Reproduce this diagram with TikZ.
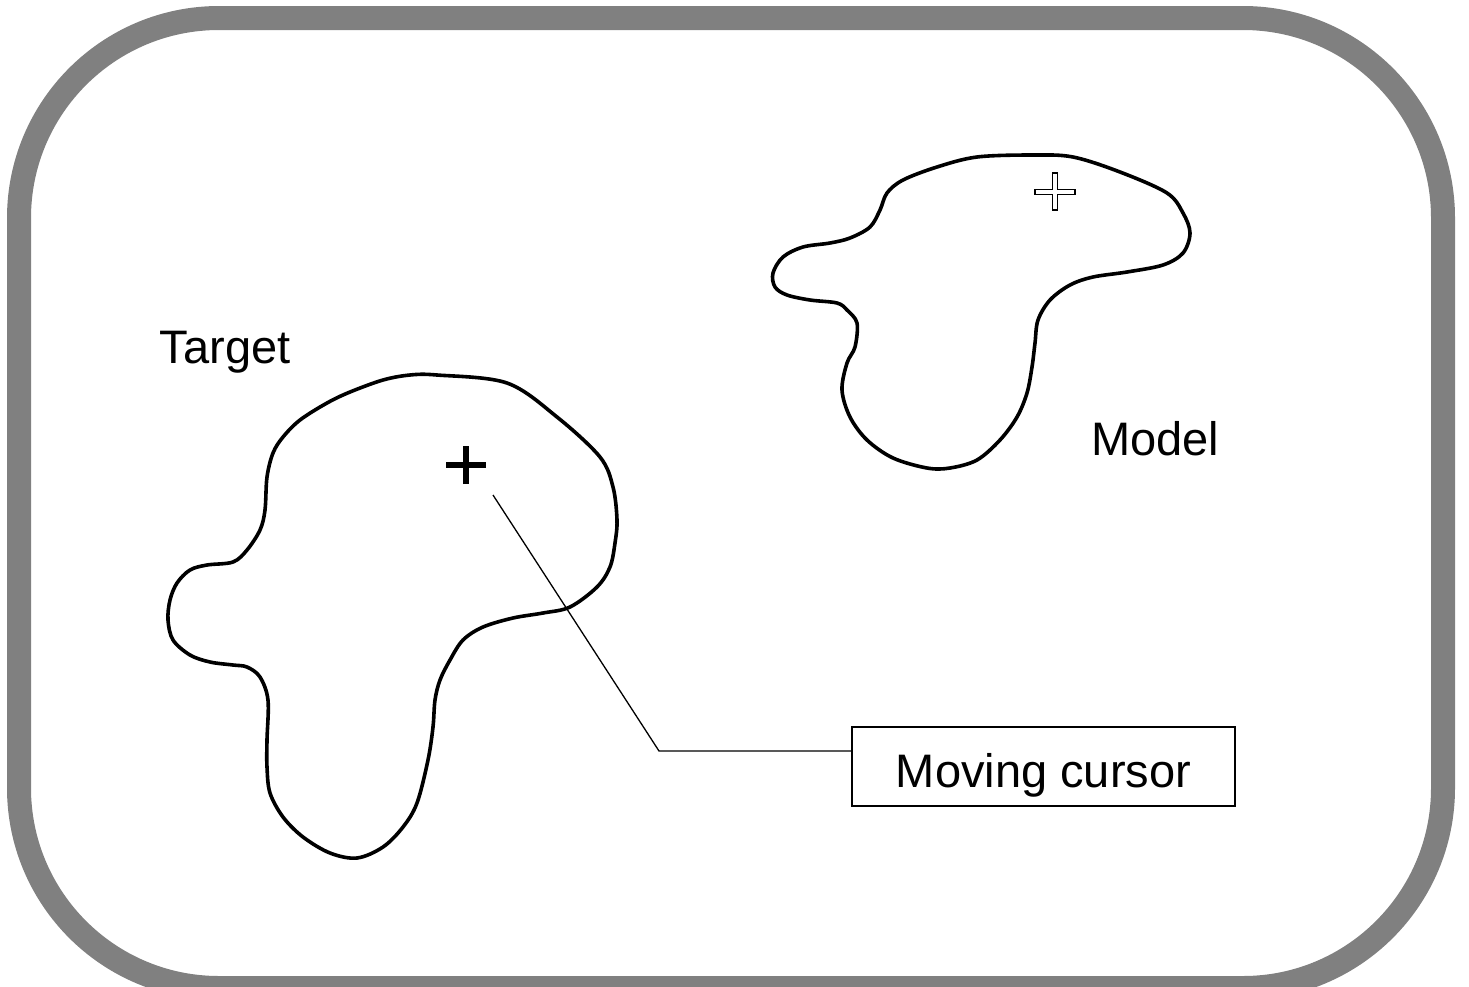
\documentclass[tikz,border=0pt]{standalone}
\usepackage{fontspec}
\setmainfont{Liberation Sans}
\usetikzlibrary{calc}
\definecolor{framegray}{RGB}{128,128,128}
\tikzset{
  frame/.style={draw=framegray, line width=24pt, rounded corners=200pt},
  blob/.style={draw=black, line width=3.6pt, line join=round},
  label/.style={font=\fontsize{47}{52}\selectfont, inner sep=0pt},
  leader/.style={draw=black, line width=1.3pt},
  callout/.style={draw=black, line width=1.3pt, minimum width=383pt, minimum height=79pt,
                  font=\fontsize{47}{52}\selectfont, inner sep=0pt,
                  text height=41pt, text depth=0pt},
  solidcross/.style={draw=black, line width=5.5pt},
  hollowcross/.style={draw=black, fill=white, line width=1.1pt, line join=miter}
}
\begin{document}
\begin{tikzpicture}[x=1pt, y=-1pt]
  \useasboundingbox (0,0) rectangle (1469,986);

  % rounded grey frame
  \draw[frame] (19,18) rectangle (1443,988);

  % target outline
  \draw[blob] plot[smooth cycle, tension=0.55] coordinates {
    (437,375) (507,383) (557,417) (600,457) (613,487) (617,520) (615,543)
    (610,567) (597,587) (570,607) (543,613) (513,618) (483,627) (463,640)
    (450,660) (440,680) (435,700) (433,727) (428,760) (417,803) (403,827)
    (383,847) (357,858) (330,853) (303,837) (283,817) (270,793) (267,767)
    (267,740) (268,700) (260,677) (247,667) (233,665) (210,662) (190,655)
    (173,640) (168,620) (170,600) (177,583) (190,570) (207,565) (233,562)
    (247,550) (260,530) (265,510) (267,477) (273,453) (283,437) (300,420)
    (327,403) (350,392) (383,380) (410,375)
  };

  % model outline
  \draw[blob] plot[smooth cycle, tension=0.55] coordinates {
    (977,157) (1033,155) (1073,157) (1120,172) (1167,193) (1183,213)
    (1190,233) (1183,253) (1163,265) (1127,272) (1093,277) (1070,285)
    (1050,300) (1038,320) (1035,343) (1032,367) (1027,393) (1017,417)
    (1000,440) (977,460) (950,468) (927,468) (893,458) (867,440) (850,417)
    (842,390) (847,363) (855,347) (857,323) (847,310) (837,303) (810,300)
    (787,295) (775,287) (773,273) (783,257) (803,247) (830,243) (850,238)
    (870,227) (880,210) (887,193) (903,180) (937,167)
  };

  % cursor on the target
  \coordinate (tc) at (466,465);
  \draw[solidcross] ([xshift=-20pt]tc) -- ([xshift=20pt]tc);
  \draw[solidcross] ([yshift=-19pt]tc) -- ([yshift=19pt]tc);

  % cursor on the model
  \coordinate (mc) at (1055,192);
  \draw[hollowcross] ($(mc)+(-2.5,-19)$) -- ($(mc)+(2.5,-19)$) -- ($(mc)+(2.5,-2.5)$)
    -- ($(mc)+(20,-2.5)$) -- ($(mc)+(20,2.5)$) -- ($(mc)+(2.5,2.5)$)
    -- ($(mc)+(2.5,18)$) -- ($(mc)+(-2.5,18)$) -- ($(mc)+(-2.5,2.5)$)
    -- ($(mc)+(-20,2.5)$) -- ($(mc)+(-20,-2.5)$) -- ($(mc)+(-2.5,-2.5)$) -- cycle;

  % labels
  \node[label, anchor=base] (target) at (225,363) {Target};
  \node[label, anchor=base] (model) at (1155,455) {Model};

  % callout with its leader
  \node[callout] (cursorbox) at (1043.5,766.5) {Moving cursor};
  \coordinate (leadstart) at (493,495);
  \coordinate (elbow) at (659,751);
  \draw[leader] (leadstart) -- (elbow) -- (elbow -| cursorbox.west);
\end{tikzpicture}
\end{document}
